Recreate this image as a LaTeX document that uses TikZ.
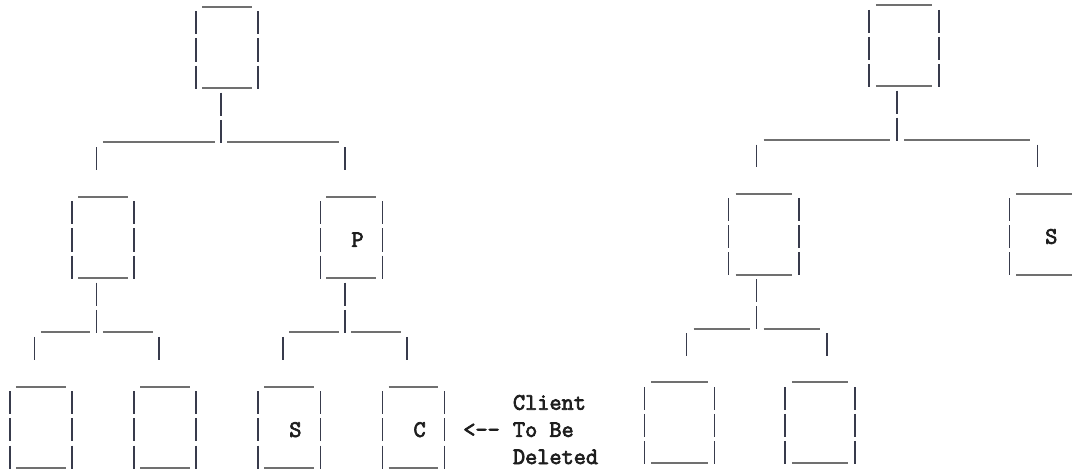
\documentclass[tikz,border=0pt]{standalone}
\usepackage{fontspec}
\newfontfamily\asciifont[FakeBold=3]{Latin Modern Mono}

\definecolor{underc}{HTML}{707070}
\definecolor{pipec}{HTML}{383B4C}
\definecolor{inkc}{HTML}{1E1E1E}

\tikzset{
  under/.style={draw=underc, line width=2pt},
  pipe/.style={draw=pipec, line width=1.5pt},
  glyph/.style={font=\asciifont\fontsize{23.6}{28}\selectfont, text=inkc, inner sep=0pt, anchor=base},
  words/.style={glyph, anchor=base west},
}

% character-grid helpers: columns and rows of a monospaced text grid
% underscores filling columns #1..#2 on row #3
\newcommand\ascUnder[3]{\draw[under] (#1-0.5,#3) -- (#2+0.5,#3);}
% a '|' in column #1 on row #2
\newcommand\ascPipe[2]{\draw[pipe] (#1,#2-0.83) -- (#1,#2+0.02);}
% a four-row box whose left '|' is in column #1, top row #2
\newcommand\ascBox[2]{%
  \ascUnder{#1+1}{#1+4}{#2}
  \foreach \k in {1,2,3}{\ascPipe{#1}{#2+\k}\ascPipe{#1+5}{#2+\k}}
  \ascUnder{#1+1}{#1+4}{#2+3}
}

\begin{document}
\begin{tikzpicture}
\useasboundingbox (0,0) rectangle (1073pt,-473pt);
\clip (0,0) rectangle (1073pt,-473pt);

% ---------------- tree before the deletion ----------------
\begin{scope}[shift={(9.76pt,-6.7pt)}, x=12.42pt, y=-27.14pt]
  \coordinate (lroot) at (17.5,1.5);
  \ascBox{15}{0}
  \ascPipe{17}{4} \ascPipe{17}{5}
  \ascUnder{8}{16}{5} \ascUnder{18}{26}{5}
  \ascPipe{7}{6} \ascPipe{27}{6}

  \ascBox{5}{7}
  \ascBox{25}{7}
  \node[glyph] (lp) at (28,9-0.15) {P};

  \ascPipe{7}{11} \ascPipe{7}{12}
  \ascUnder{3}{6}{12} \ascUnder{8}{11}{12}
  \ascPipe{2}{13} \ascPipe{12}{13}

  \ascPipe{27}{11} \ascPipe{27}{12}
  \ascUnder{23}{26}{12} \ascUnder{28}{31}{12}
  \ascPipe{22}{13} \ascPipe{32}{13}

  \ascBox{0}{14}
  \ascBox{10}{14}
  \ascBox{20}{14}
  \node[glyph] (ls) at (23,16-0.15) {S};
  \ascBox{30}{14}
  \node[glyph] (lc) at (33,16-0.15) {C};

  \node[words] (arrow) at (37-0.5,16-0.15) {<--};
  \node[words] (note1) at (41-0.5,15-0.15) {Client};
  \node[words] (note2) at (41-0.5,16-0.15) {To Be};
  \node[words] (note3) at (41-0.5,17-0.15) {Deleted};
\end{scope}

% ---------------- tree after the deletion ----------------
\begin{scope}[shift={(658.49pt,-5.3pt)}, x=14.03pt, y=-26.94pt]
  \coordinate (rroot) at (17.5,1.5);
  \ascBox{15}{0}
  \ascPipe{17}{4} \ascPipe{17}{5}
  \ascUnder{8}{16}{5} \ascUnder{18}{26}{5}
  \ascPipe{7}{6} \ascPipe{27}{6}

  \ascBox{5}{7}
  \ascBox{25}{7}
  \node[glyph] (rs) at (28,9-0.15) {S};

  \ascPipe{7}{11} \ascPipe{7}{12}
  \ascUnder{3}{6}{12} \ascUnder{8}{11}{12}
  \ascPipe{2}{13} \ascPipe{12}{13}

  \ascBox{-1}{14}
  \ascBox{9}{14}
\end{scope}
\end{tikzpicture}
\end{document}
